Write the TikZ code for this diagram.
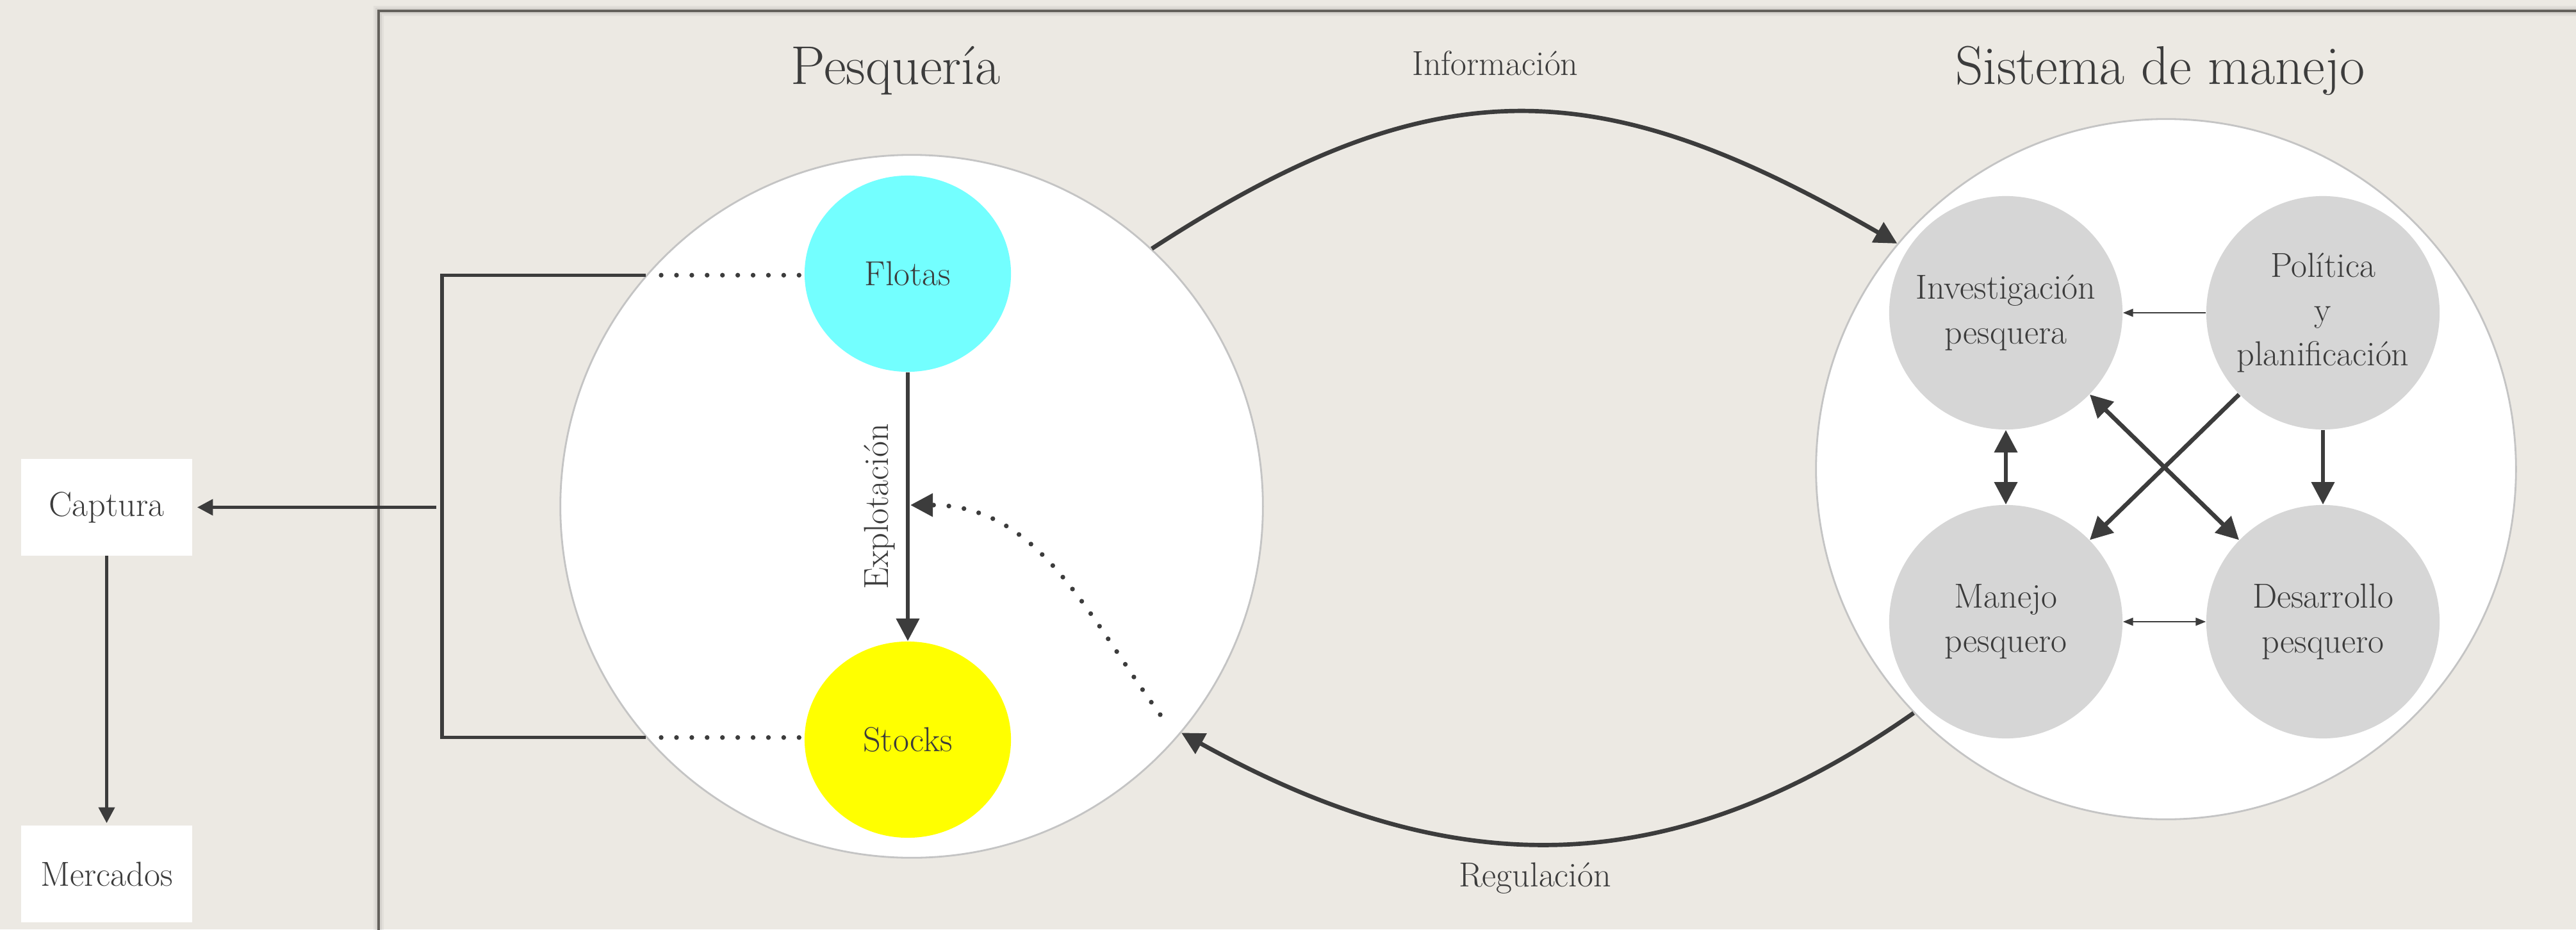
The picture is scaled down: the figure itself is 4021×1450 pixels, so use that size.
\documentclass[tikz,border=0pt]{standalone}
\usepackage{fontspec}
\usetikzlibrary{arrows.meta,shapes.geometric}

\definecolor{paper}{RGB}{236,233,227}
\definecolor{ink}{RGB}{60,60,60}
\definecolor{framegray}{RGB}{100,97,92}
\definecolor{rimgray}{RGB}{196,196,196}
\definecolor{cellgray}{RGB}{214,214,214}
\definecolor{fleetcyan}{RGB}{115,255,255}
\definecolor{stockyellow}{RGB}{255,255,0}

\begin{document}
\begin{tikzpicture}[x=0.01cm,y=0.01cm]

\tikzset{
    body/.style={text=ink,font=\fontsize{15.4}{19.7}\selectfont},
    heading/.style={text=ink,font=\fontsize{24.2}{29}\selectfont,anchor=base},
    labelbox/.style={body,rectangle,fill=white,minimum width=2.67cm,minimum height=1.5cm,inner sep=0pt},
    world/.style={circle,fill=white,draw=rimgray,line width=0.8pt,minimum size=#1,inner sep=0pt},
    stockcell/.style={body,ellipse,fill=#1,minimum width=3.22cm,minimum height=3.06cm,inner sep=0pt},
    mgmtcell/.style={body,circle,fill=cellgray,minimum size=3.64cm,align=center,inner sep=0pt},
    linkline/.style={draw=ink,line width=1.5pt,>={Triangle[length=7pt,width=7pt]}},
    heavyline/.style={draw=ink,line width=1.9pt,>={Triangle[length=10pt,width=10pt]}},
    lightline/.style={draw=ink,line width=0.6pt,>={Triangle[length=4.5pt,width=3.5pt]}},
    dotline/.style={draw=ink,line width=2.1pt,line cap=round,dash pattern=on 0pt off 6.8pt,>={Triangle[length=10pt,width=10pt]}},
}

%% Paper
\fill[paper] (0,0) rectangle (4021,1450);
\useasboundingbox (0,0) rectangle (4021,1450);
\clip (0,0) rectangle (4021,1450);

%% Frame
\draw[black,opacity=0.04,line width=4.5pt] (591,-60) rectangle (4030,1433);
\draw[black,opacity=0.05,line width=2.8pt] (591,-60) rectangle (4030,1433);
\draw[framegray,line width=1.4pt] (591,-60) rectangle (4030,1433);

%% Fishery
\node[world=10.96cm] (pesq) at (1423,660) {};
\node[heading] (pesqtitle) at (1398,1318) {Pesquería};

\coordinate (brx) at (690,658.5);
\draw[linkline,line join=miter] (pesq.139) -- (pesq.139 -| brx) -- (pesq.221 -| brx) -- (pesq.221);
\draw[dotline,shorten <=6.8pt] (pesq.139) -- (pesq.139 -| 1256,0);
\draw[dotline,shorten <=6.8pt] (pesq.221) -- (pesq.221 -| 1256,0);

\node[stockcell=fleetcyan] (flotas) at (1417,1023) {Flotas};
\node[stockcell=stockyellow] (stocks) at (1417,296) {Stocks};

\draw[heavyline,->] (flotas) -- node[body,rotate=90,above=1.5pt] (explabel) {Explotación} (stocks);

% feedback of the regulation onto exploitation
\coordinate (fbstart) at (1811,335);
\coordinate (fbend) at (1421,662);
\draw[dotline,->] (fbstart) to[out=126,in=0] (fbend);

%% Catch
\node[labelbox] (capt) at (166.5,658.5) {Captura};
\node[labelbox] (merc) at (166.5,86.5) {Mercados};
\draw[linkline,->,shorten <=2.5pt,shorten >=2pt] (brx) -- (capt.east);
\draw[linkline,->,shorten >=1pt] (capt) -- (merc);

%% Management system
\node[world=10.92cm] (mgmt) at (3381,718) {};
\node[heading] (mgmttitle) at (3372,1318) {Sistema de manejo};

\node[mgmtcell] (inv) at (3131,962) {Investigación\\pesquera};
\node[mgmtcell] (pol) at (3626,962) {Política\\y\\planificación};
\node[mgmtcell] (man) at (3131,480) {Manejo\\pesquero};
\node[mgmtcell] (des) at (3626,480) {Desarrollo\\pesquero};

\draw[lightline,->] (pol) -- (inv);
\draw[heavyline,<->] (inv) -- (man);
\draw[heavyline,->] (pol) -- (des);
\draw[lightline,<->] (man) -- (des);
\draw[heavyline,<->] (inv) -- (des);
\draw[heavyline,->] (pol) -- (man);

%% Information and regulation
\draw[heavyline,->] (pesq.47) to[out=33,in=150,looseness=1.17] (mgmt.140);
\node[body,anchor=base] (infolabel) at (2334,1332) {Información};

\draw[heavyline,->] (mgmt.224) to[out=215,in=331,looseness=1.06] (pesq.320);
\node[body,anchor=base] (reglabel) at (2396,67) {Regulación};

\end{tikzpicture}
\end{document}
